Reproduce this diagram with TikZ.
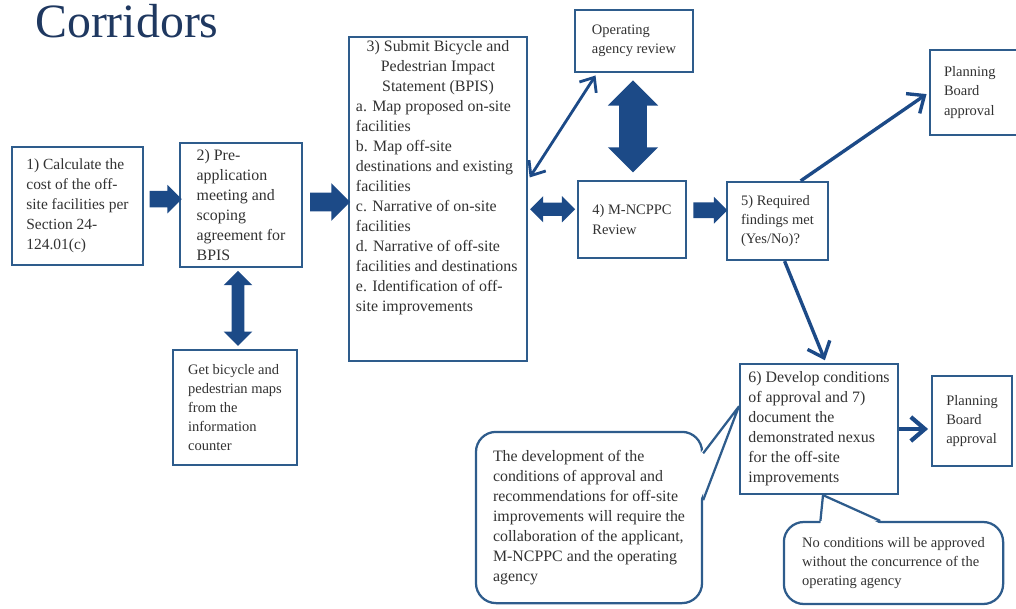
\documentclass[tikz,border=0pt]{standalone}
\usepackage{fontspec}
\setmainfont{Liberation Serif}
\usepackage{tikz}
\usetikzlibrary{arrows.meta,calc,shapes.arrows}
\definecolor{boxblue}{RGB}{46,92,140}
\definecolor{arrowblue}{RGB}{28,74,135}
\definecolor{titleblue}{RGB}{31,56,96}
\definecolor{textgray}{RGB}{50,50,50}
\newcommand{\bodyfont}{\fontsize{11.3}{14.2}\selectfont}
\newcommand{\smallbodyfont}{\fontsize{10.3}{13.6}\selectfont}
\tikzset{
    box/.style={draw=boxblue, line width=1.6pt, fill=white, inner sep=3pt, text=textgray, font=\bodyfont},
    smallbox/.style={box, font=\smallbodyfont},
    note/.style={box, align=left, rounded corners=0.5cm},
    blockarrow/.style={single arrow, fill=arrowblue, inner xsep=0pt, minimum width=0pt},
    dblarrow/.style={double arrow, fill=arrowblue, inner xsep=0pt, minimum width=0pt},
    link/.style={draw=arrowblue, line width=2.4pt, shorten >=2pt, -{Straight Barb[length=3.5mm,width=6mm]}},
    twolink/.style={link, line width=2pt, shorten <=2pt, {Straight Barb[length=3mm,width=5mm]}-{Straight Barb[length=3mm,width=5mm]}},
    pointer/.style={draw=boxblue, line width=1.6pt, line join=round}
    }

\begin{document}
\begin{tikzpicture}[x=0.025cm, y=-0.025cm]
    \useasboundingbox (0,0) rectangle (1016,609);

    % title
    \node[anchor=base west, inner sep=0pt, text=titleblue, font=\fontsize{34}{40}\selectfont] (title) at (35,38) {Corridors};

    % steps
    \node[box, align=left, minimum width=3.28cm, minimum height=2.95cm, font=\fontsize{11}{14.2}\selectfont] (s1) at (77.5,206) {1) Calculate the\\cost of the off-\\site facilities per\\Section 24-\\124.01(c)};
    \node[box, align=left, minimum width=3.05cm, minimum height=3.1cm] (s2) at (241,205) {2) Pre-\\application\\meeting and\\scoping\\agreement for\\BPIS};
    \node[box, minimum width=4.45cm, minimum height=8.1cm, inner sep=2pt] (s3) at (438,199) {\parbox[c][7.9cm][t]{4.1cm}{\centering 3) Submit Bicycle and\\Pedestrian Impact\\Statement (BPIS)\par
        \raggedright a. Map proposed on-site\\facilities\\b. Map off-site\\destinations and existing\\facilities\\c. Narrative of on-site\\facilities\\d. Narrative of off-site\\facilities and destinations\\e. Identification of off-\\site improvements}};
    \node[smallbox, align=left, minimum width=2.95cm, minimum height=1.55cm] (rev) at (634,41) {Operating\\agency review};
    \node[smallbox, align=left, minimum width=2.7cm, minimum height=1.93cm] (s4) at (632,219.5) {4) M-NCPPC\\Review};
    \node[smallbox, align=left, minimum width=2.53cm, minimum height=1.95cm] (s5) at (777.5,221) {5) Required\\findings met\\(Yes/No)?};
    \node[smallbox, align=left, text width=1.9cm, minimum width=2.6cm, minimum height=2.13cm] (pb1) at (982,92.5) {Planning\\Board\\approval};
    \node[box, align=left, minimum width=3.95cm, minimum height=3.25cm] (s6) at (819,429) {6) Develop conditions\\of approval and 7)\\document the\\demonstrated nexus\\for the off-site\\improvements};
    \node[smallbox, align=left, minimum width=2.0cm, minimum height=2.25cm] (pb2) at (972,421) {Planning\\Board\\approval};
    \node[smallbox, align=left, minimum width=3.1cm, minimum height=2.88cm] (get) at (235,407.5) {Get bicycle and\\pedestrian maps\\from the\\information\\counter};

    % block arrows
    \node[blockarrow, minimum height=0.8cm, inner ysep=0.2cm, single arrow head extend=0.15cm, yshift=0.16cm] (a12) at ($(s1.east)!0.5!(s2.west)$) {};
    \node[blockarrow, minimum height=1.0cm, inner ysep=0.225cm, single arrow head extend=0.24cm] (a23) at ($(s2.east)!0.5!(s3.west)$) {};
    \node[dblarrow, minimum height=1.125cm, inner ysep=0.16cm, double arrow head extend=0.16cm] (a34) at ($(s3.east)!0.5!(s4.west)$) {};
    \node[blockarrow, minimum height=0.85cm, inner ysep=0.19cm, single arrow head extend=0.14cm, yshift=0.25cm] (a45) at ($(s4.east)!0.5!(s5.west)$) {};
    \node[dblarrow, rotate=90, minimum height=2.3cm, inner ysep=0.34cm, double arrow head extend=0.28cm] (arev) at ($(rev.south)!0.5!(s4.north)$) {};
    \node[dblarrow, rotate=90, minimum height=1.875cm, inner ysep=0.15cm, double arrow head extend=0.2cm] (amap) at ($(s2.south)!0.5!(get.north)$) {};

    % line arrows
    \draw[twolink] (rev.221) -- (s3.12);
    \draw[link] (s5.60) -- (pb1.west);
    \draw[link] (s5.-80) -- (s6.84);
    \draw[link, line width=3pt] (s6.east) -- (s6.east -| pb2.west);

    % notes
    \node[note, minimum width=5.65cm, minimum height=4.28cm] (n1) at (589,517.5) {The development of the\\conditions of approval and\\recommendations for off-site\\improvements will require the\\collaboration of the applicant,\\M-NCPPC and the operating\\agency};
    \node[note, font=\smallbodyfont, minimum width=5.48cm, minimum height=2.05cm] (n2) at (893.5,563) {No conditions will be approved\\without the concurrence of the\\operating agency};

    % pointers
    \coordinate (tip1) at ($(s6.north west)!0.33!(s6.south west)$);
    \coordinate (tip2) at ($(s6.south)+(4,0)$);
    \fill[white] ($(n1.north east)!0.13!(n1.south east)+(-3,0)$) -- (tip1) -- ($(n1.north east)!0.40!(n1.south east)+(-3,0)$) -- cycle;
    \draw[pointer] ($(n1.north east)!0.13!(n1.south east)$) -- (tip1) -- ($(n1.north east)!0.40!(n1.south east)$);
    \fill[white] ($(n2.north west)!0.17!(n2.north east)+(0,3)$) -- (tip2) -- ($(n2.north west)!0.44!(n2.north east)+(0,3)$) -- cycle;
    \draw[pointer] ($(n2.north west)!0.17!(n2.north east)$) -- (tip2) -- ($(n2.north west)!0.44!(n2.north east)$);
\end{tikzpicture}
\end{document}
